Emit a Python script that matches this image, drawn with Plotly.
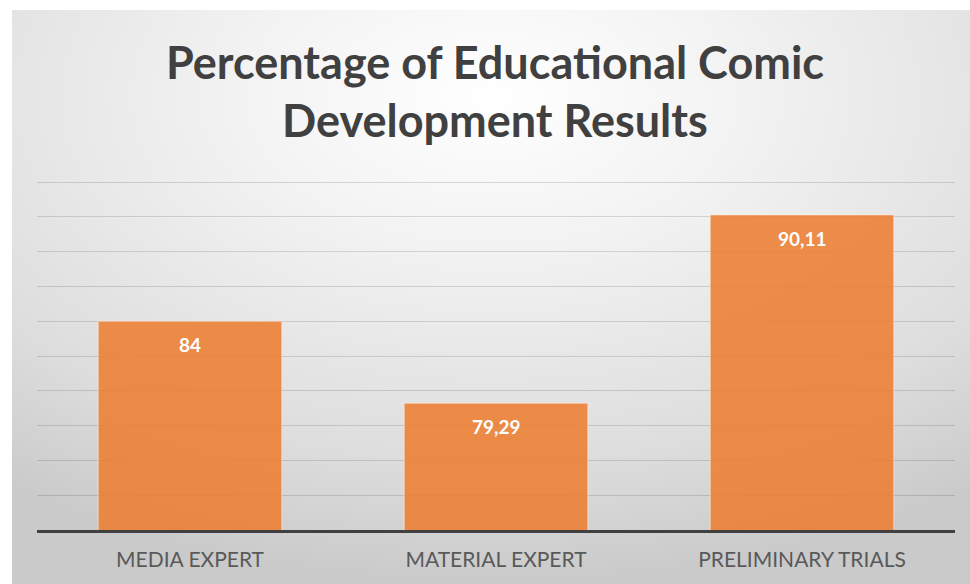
import base64
import plotly.graph_objects as go

categories = ["MEDIA EXPERT", "MATERIAL EXPERT", "PRELIMINARY TRIALS"]
values = [84, 79.29, 90.11]
title_lines = ["Percentage of Educational Comic", "Development Results"]

W, H = 970, 584
ml, mr, mt, mb = 37, 15, 181, 54
pw, ph = W - ml - mr, H - mt - mb


def py(pix):
    """pixel row -> paper y"""
    return (H - mb - pix) / ph


def px(pix):
    return (pix - ml) / pw


svg = f"""<svg xmlns='http://www.w3.org/2000/svg' width='{W}' height='{H}' viewBox='0 0 {W} {H}' preserveAspectRatio='none'>
<defs><radialGradient id='g' cx='0.5' cy='0.15' r='0.85' gradientUnits='objectBoundingBox'>
<stop offset='0' stop-color='#ffffff'/><stop offset='0.3' stop-color='#f3f3f3'/><stop offset='0.75' stop-color='#dddddd'/><stop offset='1' stop-color='#cacaca'/></radialGradient></defs>
<rect width='{W}' height='{H}' fill='url(#g)'/></svg>"""
src = "data:image/svg+xml;base64," + base64.b64encode(svg.encode()).decode()

fig = go.Figure()
fig.add_trace(go.Bar(
    x=categories, y=values,
    marker=dict(color="rgba(237,125,49,0.88)", line=dict(color="rgba(255,235,220,0.6)", width=1)),
    width=0.6, hoverinfo="skip",
))

for c, v in zip(categories, values):
    fig.add_annotation(x=c, y=v, yshift=-23.5, yanchor="middle", text=f"<b>{v:g}</b>".replace(".", ","),
                       showarrow=False, font=dict(family="Lato", size=19, color="white"))

for line, ypix in zip(title_lines, [62, 120]):
    fig.add_annotation(xref="paper", yref="paper", x=px(495), y=py(ypix), xanchor="center", yanchor="middle",
                       text=f"<b>{line}</b>", showarrow=False,
                       font=dict(family="Lato", size=45, color="#404040"))

fig.add_layout_image(dict(
    source=src, xref="paper", yref="paper",
    x=px(12), y=py(10),
    sizex=(W - 12) / pw, sizey=(H - 10) / ph,
    xanchor="left", yanchor="top", sizing="stretch", layer="below",
))

fig.update_layout(
    width=W, height=H,
    margin=dict(l=ml, r=mr, t=mt, b=mb),
    paper_bgcolor="white", plot_bgcolor="rgba(0,0,0,0)",
    showlegend=False,
    bargap=0.4,
    xaxis=dict(showgrid=False, showline=True, linecolor="#404040", linewidth=2.5,
               tickfont=dict(family="Lato", size=21, color="#595959"), ticks="",
               ticklabelstandoff=9),
    yaxis=dict(range=[72, 92.06], dtick=2, showticklabels=False, showgrid=True,
               gridcolor="rgba(0,0,0,0.13)", gridwidth=1, zeroline=False, ticks=""),
)

fig.write_html("out.html", config={"displayModeBar": False},
               post_script="document.body.style.margin='0';document.body.style.overflow='hidden';")
